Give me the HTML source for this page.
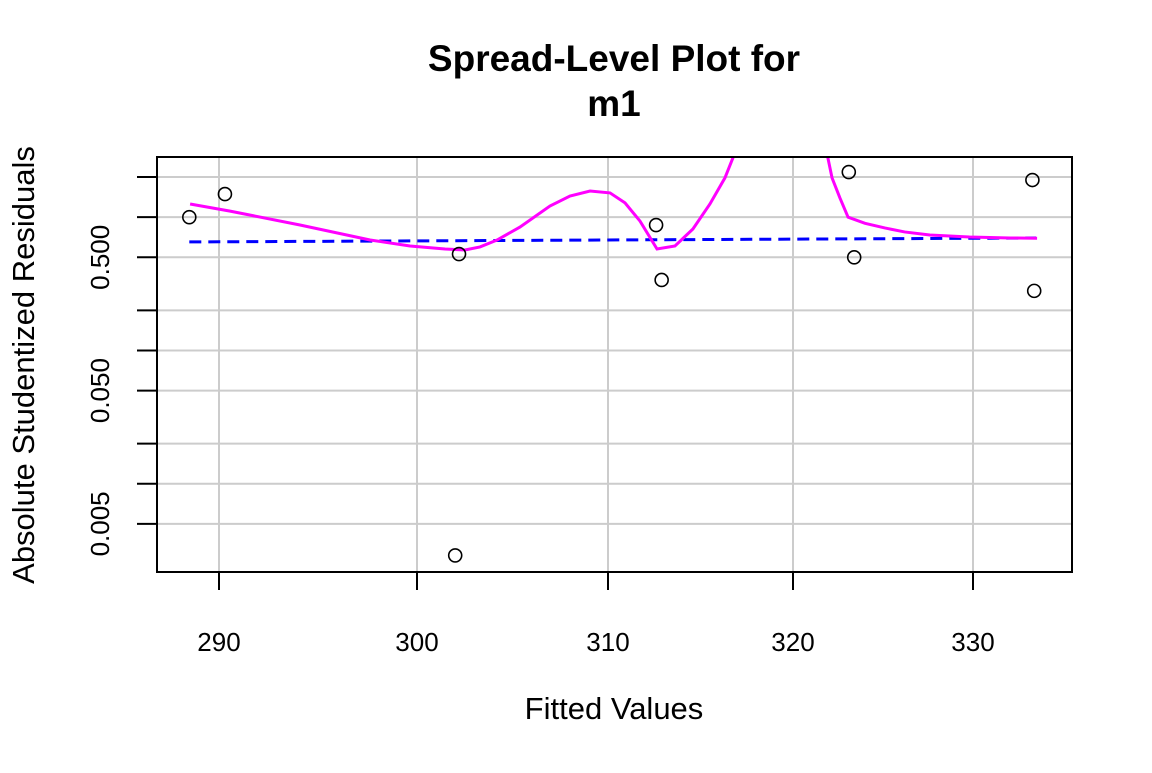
<!DOCTYPE html>
<html><head><meta charset="utf-8"><style>
body{margin:0;background:#fff}
text{font-family:"Liberation Sans",Arial,sans-serif;fill:#000}
</style></head><body>
<svg id="chart" width="1152" height="768" xmlns="http://www.w3.org/2000/svg">
<defs><clipPath id="clip"><rect x="157" y="157" width="915" height="415"/></clipPath></defs>
<text x="614" y="71" font-size="37" font-weight="bold" text-anchor="middle">Spread-Level Plot for</text>
<text x="614" y="116" font-size="37" font-weight="bold" text-anchor="middle">m1</text>
<text x="614" y="719" font-size="31" text-anchor="middle">Fitted Values</text>
<text transform="translate(34,365) rotate(-90)" font-size="31" text-anchor="middle">Absolute Studentized Residuals</text>
<g id="grid"></g><g id="axes"></g><g id="marks" clip-path="url(#clip)"></g><g id="pts"></g>
<rect x="157" y="157" width="915" height="415" fill="none" stroke="#000" stroke-width="2"/>
</svg>
<script>
const xTicks=[290,300,310,320,330];
const yTicks=[0.005,0.01,0.02,0.05,0.1,0.2,0.5,1,2];
const yTickLabels=["0.005","","","0.050","","","0.500","",""];
const pointX=[288.5,290.3,302.2,302.0,312.6,312.9,323.1,323.4,333.3,333.4];
const pointY=[1.0,1.49,0.529,0.0029,0.873,0.338,2.18,0.5,1.9,0.28];
const fitX=[288.5,333.5];
const fitY=[0.652,0.698];
const smoothX=[288.54,290.56,294.09,297.63,299.65,301.47,302.51,303.3,304.19,305.39,306.96,308.01,309.06,310.11,310.92,311.73,312.65,313.62,314.59,315.51,316.32,317.14,321.73,322.17,322.61,323.06,324,325.1,326.2,327.6,329.8,332.06,333.56];
const smoothY=[1.256,1.11,0.874,0.674,0.608,0.577,0.567,0.598,0.674,0.843,1.213,1.44,1.57,1.52,1.28,0.935,0.577,0.608,0.815,1.256,1.97,3.8,3.8,1.97,1.39,1.0,0.9,0.83,0.775,0.735,0.71,0.698,0.695];
const tickPx=[219,417,608,793,973];
function sx(v){
  let i=0; while(i<xTicks.length-2 && v>xTicks[i+1]) i++;
  return tickPx[i]+(v-xTicks[i])*(tickPx[i+1]-tickPx[i])/(xTicks[i+1]-xTicks[i]);
}
function sy(v){return 257.3-(Math.log10(v)-Math.log10(0.5))*133.3;}
const NS="http://www.w3.org/2000/svg";
function mk(tag,attrs,parent){const e=document.createElementNS(NS,tag);for(const k in attrs)e.setAttribute(k,attrs[k]);document.getElementById(parent).appendChild(e);return e;}
xTicks.forEach((t,i)=>{
  const g=mk('line',{x1:sx(t),x2:sx(t),y1:157,y2:572,stroke:'#ccc','stroke-width':2},'grid');
  
  
  const tk=mk('line',{x1:sx(t),x2:sx(t),y1:572,y2:590,stroke:'#000','stroke-width':2},'axes');
  
  
  const tx=mk('text',{x:sx(t),y:651,'font-size':26,'text-anchor':'middle'},'axes');
  tx.textContent=t;
  
  
});
yTicks.forEach((t,i)=>{
  const y=sy(t);
  const g=mk('line',{x1:157,x2:1072,y1:y,y2:y,stroke:'#ccc','stroke-width':2},'grid');
  
  
  const tk=mk('line',{x1:137,x2:157,y1:y,y2:y,stroke:'#000','stroke-width':2},'axes');
  
  
  if(yTickLabels[i]){
    const tx=mk('text',{transform:`translate(109,${y}) rotate(-90)`,'font-size':26,'text-anchor':'middle'},'axes');
    tx.textContent=yTickLabels[i];
    
    
  }
});
const fl=mk('line',{x1:sx(fitX[0]),y1:sy(fitY[0]),x2:sx(fitX[1]),y2:sy(fitY[1]),stroke:'#0000ff','stroke-width':3,'stroke-dasharray':'12 7'},'marks');


const sm=mk('polyline',{points:smoothX.map((x,i)=>sx(x)+','+sy(smoothY[i])).join(' '),fill:'none',stroke:'#ff00ff','stroke-width':3},'marks');


pointX.forEach((x,i)=>{
  const c=mk('circle',{cx:sx(x),cy:sy(pointY[i]),r:6.5,fill:'none',stroke:'#000','stroke-width':1.6},'pts');
  
  
});
</script>
</body></html>
